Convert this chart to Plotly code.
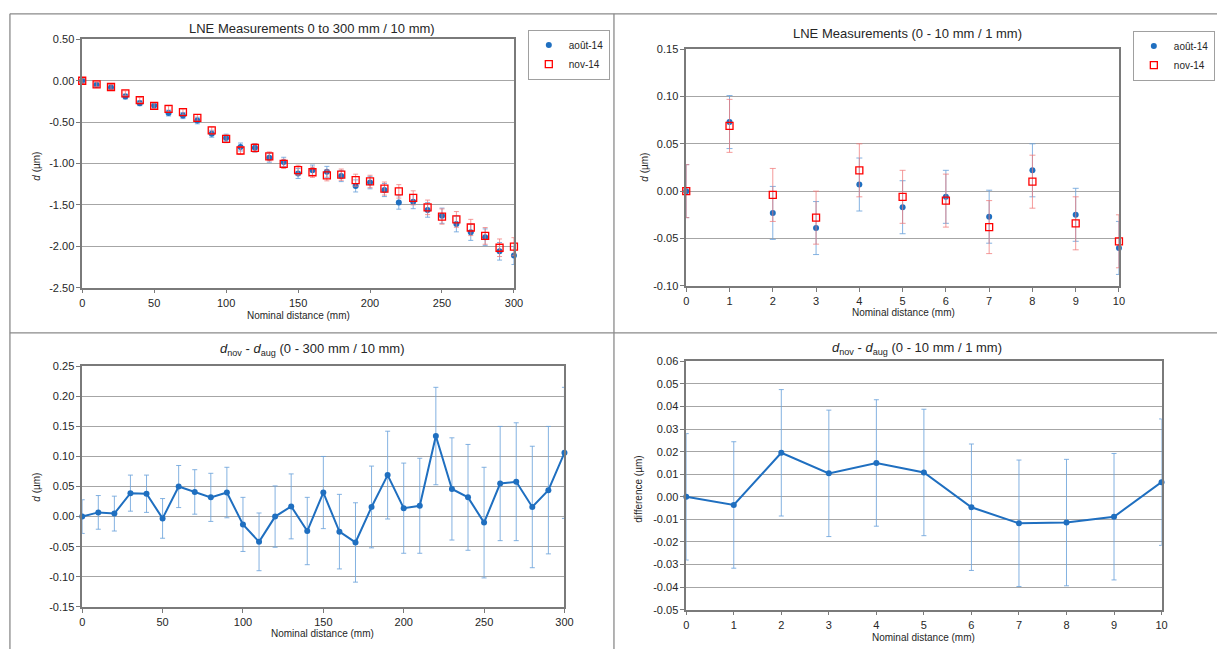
import plotly.graph_objects as go

# ---------------- data ----------------
dist_300 = [0, 10, 20, 30, 40, 50, 60, 70, 80, 90, 100, 110, 120, 130, 140, 150,
            160, 170, 180, 190, 200, 210, 220, 230, 240, 250, 260, 270, 280, 290, 300]
aug_300 = [0.000, -0.050, -0.080, -0.190, -0.270, -0.300, -0.390, -0.420, -0.480, -0.640,
           -0.690, -0.800, -0.810, -0.930, -0.980, -1.120, -1.080, -1.100, -1.150, -1.270,
           -1.230, -1.320, -1.470, -1.460, -1.560, -1.630, -1.730, -1.830, -1.890, -2.060, -2.110]
nov_300 = [0.000, -0.043, -0.075, -0.151, -0.233, -0.303, -0.340, -0.379, -0.448, -0.600,
           -0.703, -0.842, -0.810, -0.913, -1.004, -1.080, -1.105, -1.143, -1.134, -1.201,
           -1.216, -1.302, -1.336, -1.414, -1.529, -1.640, -1.675, -1.772, -1.874, -2.017, -2.004]
diff_300 = [0.000, 0.007, 0.005, 0.039, 0.038, -0.003, 0.050, 0.041, 0.032, 0.040,
            -0.013, -0.042, 0.000, 0.017, -0.024, 0.040, -0.025, -0.043, 0.016, 0.069,
            0.014, 0.018, 0.134, 0.046, 0.032, -0.010, 0.055, 0.058, 0.016, 0.044, 0.106]
err_300 = [0.028, 0.028, 0.029, 0.030, 0.031, 0.033, 0.035, 0.037, 0.040, 0.042,
           0.045, 0.048, 0.051, 0.054, 0.056, 0.060, 0.062, 0.066, 0.068, 0.073,
           0.075, 0.079, 0.081, 0.085, 0.088, 0.092, 0.095, 0.098, 0.101, 0.106, 0.109]

dist_10 = [0, 1, 2, 3, 4, 5, 6, 7, 8, 9, 10]
aug_10 = [0.000, 0.073, -0.023, -0.039, 0.007, -0.017, -0.006, -0.027, 0.022, -0.025, -0.060]
nov_10 = [0.000, 0.069, -0.004, -0.028, 0.022, -0.006, -0.010, -0.038, 0.010, -0.034, -0.053]
diff_10 = [0.000, -0.0036, 0.0195, 0.0104, 0.0150, 0.0108, -0.0046, -0.0117, -0.0114, -0.0088, 0.0065]
err_10 = [0.028, 0.028, 0.028, 0.028, 0.028, 0.028, 0.028, 0.028, 0.028, 0.028, 0.028]

series_names = ["août-14", "nov-14"]

yticks_tl = [0.50, 0.00, -0.50, -1.00, -1.50, -2.00, -2.50]
yticks_tr = [0.15, 0.10, 0.05, 0.00, -0.05, -0.10]
yticks_bl = [0.25, 0.20, 0.15, 0.10, 0.05, 0.00, -0.05, -0.10, -0.15]
yticks_br = [0.06, 0.05, 0.04, 0.03, 0.02, 0.01, 0.00, -0.01, -0.02, -0.03, -0.04, -0.05]
xticks_300 = [0, 50, 100, 150, 200, 250, 300]
xticks_10 = [0, 1, 2, 3, 4, 5, 6, 7, 8, 9, 10]

titles = ["LNE Measurements 0 to 300 mm / 10 mm)",
          "LNE Measurements (0 - 10 mm / 1 mm)",
          "<i>d</i><sub>nov</sub> - <i>d</i><sub>aug</sub> (0 - 300 mm / 10 mm)",
          "<i>d</i><sub>nov</sub> - <i>d</i><sub>aug</sub> (0 - 10 mm / 1 mm)"]

# ---------------- styling ----------------
W, H = 1226, 655
FONT = "Liberation Sans, Arial, Helvetica, sans-serif"
TXT = "#262626"
BLUE = "#1F6FC0"
RED = "#FF0000"
BLUE_ERR = "rgba(110,165,220,0.85)"
RED_ERR = "rgba(240,120,120,0.75)"
GRID = "#a6a6a6"
AXIS = "#7a7a7a"


def fx(px):
    return px / W


def fy(py):
    return 1 - py / H


fig = go.Figure()

# top-left
fig.add_trace(go.Scatter(
    x=dist_300, y=aug_300, mode="markers", name=series_names[0],
    marker=dict(symbol="circle", size=6, color=BLUE),
    error_y=dict(type="data", array=err_300, color=BLUE_ERR, thickness=1, width=2.5),
    xaxis="x", yaxis="y", legend="legend", cliponaxis=False))
fig.add_trace(go.Scatter(
    x=dist_300, y=nov_300, mode="markers", name=series_names[1],
    marker=dict(symbol="square-open", size=7, color=RED, line=dict(width=1.3, color=RED)),
    error_y=dict(type="data", array=err_300, color=RED_ERR, thickness=1, width=2.5),
    xaxis="x", yaxis="y", legend="legend", cliponaxis=False))

# top-right
fig.add_trace(go.Scatter(
    x=dist_10, y=aug_10, mode="markers", name=series_names[0],
    marker=dict(symbol="circle", size=6, color=BLUE),
    error_y=dict(type="data", array=err_10, color=BLUE_ERR, thickness=1, width=3),
    xaxis="x2", yaxis="y2", legend="legend2", cliponaxis=False))
fig.add_trace(go.Scatter(
    x=dist_10, y=nov_10, mode="markers", name=series_names[1],
    marker=dict(symbol="square-open", size=7, color=RED, line=dict(width=1.3, color=RED)),
    error_y=dict(type="data", array=err_10, color=RED_ERR, thickness=1, width=3),
    xaxis="x2", yaxis="y2", legend="legend2", cliponaxis=False))

# bottom-left
fig.add_trace(go.Scatter(
    x=dist_300, y=diff_300, mode="lines+markers", showlegend=False,
    line=dict(color=BLUE, width=2), marker=dict(symbol="circle", size=6, color=BLUE),
    error_y=dict(type="data", array=err_300, color=BLUE_ERR, thickness=1, width=2.5),
    xaxis="x3", yaxis="y3", cliponaxis=False))

# bottom-right
fig.add_trace(go.Scatter(
    x=dist_10, y=diff_10, mode="lines+markers", showlegend=False,
    line=dict(color=BLUE, width=2), marker=dict(symbol="circle", size=6, color=BLUE),
    error_y=dict(type="data", array=err_10, color=BLUE_ERR, thickness=1, width=2.5),
    xaxis="x4", yaxis="y4", cliponaxis=False))


def xax(x0, x1, rng, ticks, anchor):
    return dict(domain=[fx(x0), fx(x1)], range=rng, anchor=anchor,
                tickvals=ticks, ticktext=[str(t) for t in ticks],
                showgrid=False, zeroline=False, showline=True, linecolor=AXIS,
                linewidth=1.5, mirror=True, ticks="outside", ticklen=4,
                tickcolor=AXIS, tickfont=dict(size=11, color=TXT, family=FONT))


def yax(y0, y1, rng, ticks, anchor):
    return dict(domain=[fy(y1), fy(y0)], range=rng, anchor=anchor,
                tickvals=ticks, ticktext=[f"{t:.2f}" for t in ticks],
                showgrid=True, gridcolor=GRID, gridwidth=1.3, zeroline=False,
                showline=True, linecolor=AXIS, linewidth=1.5, mirror=True,
                ticks="outside", ticklen=4, tickcolor=AXIS,
                tickfont=dict(size=11, color=TXT, family=FONT))


layout = dict(
    width=W, height=H, margin=dict(l=0, r=0, t=0, b=0),
    paper_bgcolor="white", plot_bgcolor="white",
    font=dict(family=FONT, color=TXT),
    xaxis=xax(80, 516, [0, 300], xticks_300, "y"),
    yaxis=yax(34, 287, [-2.5, 0.5], yticks_tl, "x"),
    xaxis2=xax(690, 1127, [0, 10], xticks_10, "y2"),
    yaxis2=yax(44, 285, [-0.10, 0.15], yticks_tr, "x2"),
    xaxis3=xax(80, 567, [0, 300], xticks_300, "y3"),
    yaxis3=yax(367, 612, [-0.15, 0.25], yticks_bl, "x3"),
    xaxis4=xax(690, 1170, [0, 10], xticks_10, "y4"),
    yaxis4=yax(362, 615, [-0.05, 0.06], yticks_br, "x4"),
    legend=dict(x=fx(530), y=fy(24), xanchor="left", yanchor="top",
                bordercolor="#a0a0a0", borderwidth=1, bgcolor="white",
                font=dict(size=10, family=FONT, color=TXT), itemwidth=30,
                tracegroupgap=0),
    legend2=dict(x=fx(1141), y=fy(25), xanchor="left", yanchor="top",
                 bordercolor="#a0a0a0", borderwidth=1, bgcolor="white",
                 font=dict(size=10, family=FONT, color=TXT), itemwidth=30,
                 tracegroupgap=0),
)
fig.update_layout(**layout)

annotations = []
# chart titles
for text, cx, cy in [(titles[0], 312, 23), (titles[1], 913, 28),
                     (titles[2], 312, 350), (titles[3], 923, 349)]:
    annotations.append(dict(text=text, x=fx(cx), y=fy(cy), xref="paper", yref="paper",
                            xanchor="center", yanchor="middle", showarrow=False,
                            font=dict(size=13, family=FONT, color=TXT)))
# x axis titles
for cx, cy in [(298, 315), (909, 312), (323, 639), (930, 643)]:
    annotations.append(dict(text="Nominal distance (mm)", x=fx(cx), y=fy(cy),
                            xref="paper", yref="paper", xanchor="center",
                            yanchor="middle", showarrow=False,
                            font=dict(size=10, family=FONT, color=TXT)))
# y axis titles
for text, cx, cy in [("<i>d</i> (µm)", 33, 163), ("<i>d</i> (µm)", 648, 164),
                     ("<i>d</i> (µm)", 33, 490), ("difference (µm)", 642, 492)]:
    annotations.append(dict(text=text, x=fx(cx), y=fy(cy), xref="paper", yref="paper",
                            xanchor="center", yanchor="middle", showarrow=False,
                            textangle=-90, font=dict(size=10, family=FONT, color=TXT)))
fig.update_layout(annotations=annotations)

# panel frame lines
frame = "#8a8a8a"
shapes = [
    dict(type="line", x0=fx(7), x1=fx(7), y0=fy(8), y1=0),
    dict(type="line", x0=fx(7), x1=1, y0=fy(8), y1=fy(8)),
    dict(type="line", x0=fx(7), x1=1, y0=fy(333), y1=fy(333)),
    dict(type="line", x0=fx(617), x1=fx(617), y0=fy(8), y1=0),
]
for s in shapes:
    s.update(xref="paper", yref="paper", line=dict(color=frame, width=1.3))
fig.update_layout(shapes=shapes)

fig.write_html("out.html", config={"displayModeBar": False},
               post_script="document.body.style.margin='0';")
